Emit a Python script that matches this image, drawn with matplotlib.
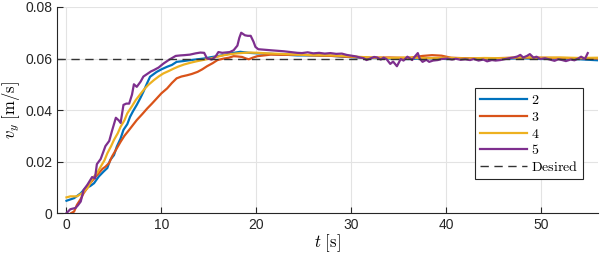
import matplotlib
matplotlib.use("Agg")
import matplotlib.pyplot as plt

plt.rcParams['mathtext.fontset'] = 'cm'
plt.rcParams['font.family'] = ['Liberation Sans', 'DejaVu Sans']

t2 = [0, 0.8, 1.5, 2.0, 2.5, 2.9, 3.4, 3.9, 4.3, 4.6,
      5.0, 5.3, 5.7, 6.0, 6.4, 6.7, 7.0, 7.4, 7.8, 8.1,
      8.5, 8.8, 9.2, 9.5, 10.0, 10.6, 11.1, 11.6, 12.3, 13.1,
      13.8, 14.5, 15.2, 15.9, 16.6, 17.3, 18.3, 19.2, 20.1, 21.5,
      22.9, 24.3, 26, 28, 30, 32, 34, 36, 38, 40,
      42, 44, 46, 48, 50, 52, 54, 56]
v2 = [0.0048, 0.0058, 0.0077, 0.0097, 0.0105, 0.0116, 0.0142, 0.0161, 0.0175, 0.0206,
      0.0225, 0.0258, 0.0290, 0.0323, 0.0345, 0.0374, 0.0395, 0.042, 0.0448, 0.0471,
      0.0505, 0.0529, 0.0540, 0.0548, 0.0558, 0.0568, 0.0575, 0.0587, 0.0590, 0.0594,
      0.0597, 0.060, 0.0605, 0.0609, 0.0614, 0.062, 0.0626, 0.0622, 0.062, 0.0618,
      0.0615, 0.0612, 0.0612, 0.0610, 0.0605, 0.0602, 0.0600, 0.0598, 0.0601, 0.0598,
      0.0600, 0.0597, 0.0599, 0.0601, 0.0598, 0.0600, 0.0597, 0.0593]

t3 = [0.5, 0.8, 1.1, 1.5, 1.8, 2.2, 2.5, 3.0, 3.4, 3.8,
      4.1, 4.5, 4.8, 5.2, 5.7, 6.1, 6.6, 7.0, 7.4, 8.0,
      8.5, 9.0, 9.5, 10.0, 10.6, 11.1, 11.6, 12.1, 12.7, 13.2,
      13.8, 14.3, 14.8, 15.4, 15.9, 16.6, 17.1, 17.6, 18.0, 18.5,
      18.9, 19.2, 19.6, 20.1, 21.5, 23, 24.3, 26, 28, 30,
      32, 34, 36, 37.5, 38.5, 39.5, 40.5, 42, 44, 46,
      48, 50, 52, 54, 56]
v3 = [0.0, 0.0006, 0.0032, 0.0055, 0.0077, 0.0098, 0.0116, 0.0138, 0.0155, 0.0172,
      0.018, 0.0195, 0.022, 0.0245, 0.0277, 0.030, 0.0323, 0.0342, 0.0361, 0.0385,
      0.0406, 0.0425, 0.0445, 0.0465, 0.0484, 0.0505, 0.0523, 0.0530, 0.0535, 0.0540,
      0.0548, 0.0558, 0.057, 0.0582, 0.0594, 0.060, 0.0603, 0.0609, 0.0608, 0.0606,
      0.0600, 0.0597, 0.0603, 0.0609, 0.0615, 0.0614, 0.0615, 0.0612, 0.0610, 0.0606,
      0.0603, 0.0604, 0.0602, 0.0610, 0.0613, 0.0611, 0.0603, 0.0601, 0.0600, 0.0602,
      0.0604, 0.0603, 0.0602, 0.0601, 0.0600]

t4 = [0, 0.4, 1.1, 1.65, 2.2, 2.6, 2.9, 3.3, 3.6, 4.0,
      4.3, 4.7, 5.0, 5.4, 5.7, 6.1, 6.4, 6.9, 7.3, 7.7,
      8.1, 8.6, 9.2, 9.7, 10.2, 10.8, 11.3, 11.8, 12.4, 13.1,
      13.8, 14.5, 15.2, 15.9, 16.6, 17.3, 18.0, 18.7, 19.4, 20.2,
      21.1, 22.5, 24.3, 26, 28, 30, 32, 34, 36, 38,
      40, 42, 44, 46, 48, 50, 52, 54, 56]
v4 = [0.0061, 0.0065, 0.0065, 0.0077, 0.0097, 0.0125, 0.0142, 0.016, 0.018, 0.0205,
      0.0232, 0.026, 0.0284, 0.031, 0.0335, 0.036, 0.0387, 0.0415, 0.0439, 0.0458,
      0.0477, 0.0497, 0.0516, 0.053, 0.0542, 0.0552, 0.0561, 0.0569, 0.0577, 0.0584,
      0.059, 0.0595, 0.060, 0.0607, 0.0613, 0.0617, 0.062, 0.0622, 0.0623, 0.0622,
      0.062, 0.0618, 0.0615, 0.0613, 0.0612, 0.0608, 0.0604, 0.0602, 0.0604, 0.0601,
      0.0603, 0.0600, 0.0602, 0.0601, 0.0605, 0.0603, 0.0604, 0.0602, 0.0603]

t5 = [0, 0.4, 0.95, 1.2, 1.5, 1.8, 2.2, 2.7, 3.0, 3.2,
      3.6, 4.1, 4.5, 4.8, 5.2, 5.5, 5.7, 6.0, 6.3, 6.6,
      6.9, 7.1, 7.4, 7.8, 8.1, 8.5, 8.9, 9.2, 9.7, 10.2,
      10.8, 11.5, 12.0, 12.4, 13.0, 13.6, 14.1, 14.5, 14.8, 15.3,
      15.7, 16.0, 16.4, 16.7, 17.2, 17.6, 18.0, 18.2, 18.4, 18.8,
      19.1, 19.4, 19.7, 19.9, 20.2, 20.8, 21.5, 22.2, 22.9, 23.6,
      24.3, 24.8, 25.4, 26.0, 26.6, 27.2, 27.8, 28.4, 29.0, 29.5,
      30.0, 30.5, 30.9, 31.3, 31.6, 32.0, 32.4, 32.7, 33.1, 33.4,
      33.7, 34.1, 34.4, 34.8, 35.2, 35.5, 35.9, 36.2, 36.4, 36.7,
      37.0, 37.2, 37.5, 37.9, 38.2, 38.6, 39.1, 39.5, 40.1, 40.6,
      41.0, 41.5, 42.0, 42.5, 42.9, 43.4, 43.9, 44.3, 44.8, 45.2,
      45.7, 46.2, 46.6, 47.1, 47.5, 47.8, 48.1, 48.5, 48.8, 49.2,
      49.5, 49.9, 50.4, 51.0, 51.4, 51.8, 52.2, 52.6, 53.1, 53.5,
      53.9, 54.2, 54.6, 54.9]
v5 = [0.0, 0.0015, 0.002, 0.003, 0.0045, 0.009, 0.011, 0.014, 0.0135, 0.019,
      0.021, 0.026, 0.028, 0.032, 0.037, 0.036, 0.035, 0.042, 0.0425, 0.0425,
      0.046, 0.050, 0.049, 0.051, 0.053, 0.054, 0.055, 0.0555, 0.0565, 0.058,
      0.0595, 0.061, 0.0612, 0.0613, 0.0615, 0.062, 0.0623, 0.0622, 0.060, 0.0596,
      0.0608, 0.0625, 0.0622, 0.0623, 0.0625, 0.0632, 0.065, 0.068, 0.070, 0.069,
      0.0688, 0.0688, 0.0665, 0.0645, 0.0636, 0.0634, 0.0632, 0.063, 0.0628, 0.0625,
      0.0622, 0.0621, 0.0624, 0.062, 0.0622, 0.0619, 0.0621, 0.0618, 0.0619, 0.0614,
      0.0611, 0.0608, 0.0604, 0.0601, 0.0594, 0.0600, 0.0606, 0.0604, 0.0596, 0.0603,
      0.0598, 0.0579, 0.0588, 0.0570, 0.0598, 0.0592, 0.0607, 0.0600, 0.0594, 0.0608,
      0.0621, 0.0600, 0.0587, 0.0595, 0.0587, 0.0592, 0.0594, 0.0598, 0.0600, 0.0596,
      0.0599, 0.0595, 0.0597, 0.0594, 0.0598, 0.0592, 0.0596, 0.0589, 0.0594, 0.0592,
      0.0594, 0.0598, 0.0601, 0.0604, 0.0608, 0.0614, 0.0604, 0.0610, 0.0617, 0.0603,
      0.0607, 0.0598, 0.0601, 0.0595, 0.0591, 0.0597, 0.0594, 0.0590, 0.0596, 0.0593,
      0.0600, 0.0607, 0.0598, 0.0621]

desired = 0.06
series_labels = ['2', '3', '4', '5']
colors = ['#0072BD', '#D95319', '#EDB120', '#7E2F8E']
xticks = [0, 10, 20, 30, 40, 50]
yticks = [0, 0.02, 0.04, 0.06, 0.08]

fig = plt.figure(figsize=(6.0, 2.58), dpi=100)
ax = fig.add_axes([0.095, 0.174, 0.902, 0.799])

for (t, v), lab, c in zip([(t2, v2), (t3, v3), (t4, v4), (t5, v5)], series_labels, colors):
    ax.plot(t, v, color=c, lw=1.6, label=r'$\mathrm{' + lab + '}$')
ax.axhline(desired, color='#333333', lw=1.0, ls=(0, (6, 4)), label=r'$\mathrm{Desired}$')

ax.set_xlim(-1, 56)
ax.set_ylim(0, 0.08)
ax.set_xticks(xticks)
ax.set_yticks(yticks)
ax.set_yticklabels(['0', '0.02', '0.04', '0.06', '0.08'])
ax.grid(True, color='#e3e3e3', lw=0.8)
ax.set_axisbelow(True)
for s in ['top', 'right']:
    ax.spines[s].set_visible(False)
for s in ['left', 'bottom']:
    ax.spines[s].set_color('#262626')
    ax.spines[s].set_linewidth(0.8)
ax.tick_params(direction='in', length=4, width=0.8, color='#262626',
               labelsize=10, labelcolor='#262626')
ax.set_xlabel(r'$t\ [\mathrm{s}]$', fontsize=12, labelpad=0)
ax.set_ylabel(r'$v_y\ [\mathrm{m/s}]$', fontsize=12, labelpad=2)

leg = ax.legend(loc='upper right', bbox_to_anchor=(0.985, 0.64), fontsize=10,
                handlelength=3.4, handletextpad=0.3, labelspacing=0.2,
                borderpad=0.35, fancybox=False, framealpha=1, edgecolor='#262626')
leg.get_frame().set_linewidth(0.8)

fig.savefig('out.png', dpi=100)
